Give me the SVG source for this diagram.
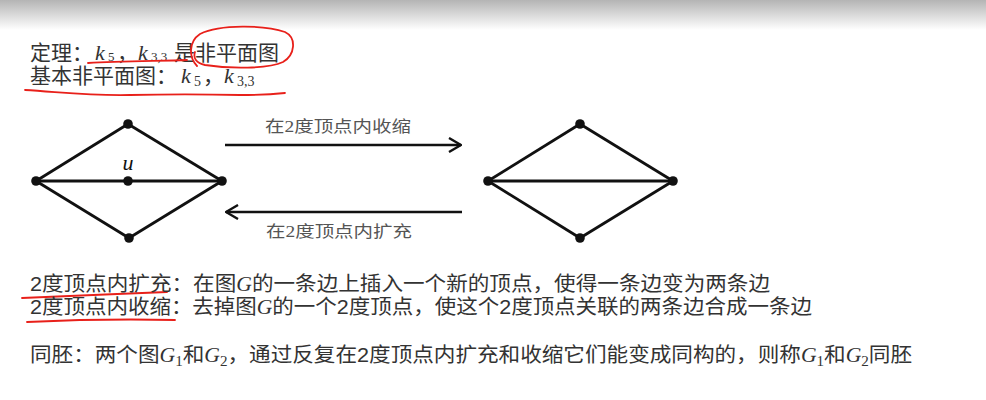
<svg xmlns="http://www.w3.org/2000/svg" width="986" height="400" viewBox="0 0 986 400">
<defs>
<linearGradient id="topg" x1="0" y1="0" x2="0" y2="1">
<stop offset="0" stop-color="#b4b4b4"/>
<stop offset="1" stop-color="#ffffff"/>
</linearGradient>
<marker id="open" viewBox="0 0 14 16" refX="13" refY="8" markerWidth="14" markerHeight="16" markerUnits="userSpaceOnUse" orient="auto">
<path d="M1,1 L13,8 L1,15" fill="none" stroke="#111" stroke-width="2.4"/>
</marker>
<style>
.t{font-family:"Liberation Sans","Noto Sans CJK SC",sans-serif;font-size:20px;fill:#333}
.h{font-family:"Liberation Sans","Noto Sans CJK SC",sans-serif;font-size:21px;fill:#333}
.lbl{font-family:"Liberation Serif","Noto Sans CJK SC",serif;font-size:16px;fill:#555}
.m{font-family:"Liberation Serif",serif;font-style:italic}
.k{font-family:"Liberation Serif",serif;font-style:italic;font-size:22px;fill:#333}
.s{font-family:"Liberation Serif",serif;font-size:14px;fill:#333}
.s1{font-family:"Liberation Serif",serif;font-size:13px;fill:#333}
.sub{font-family:"Liberation Serif",serif;font-style:normal;font-size:14px}
.e{stroke:#111;stroke-width:2.8;fill:none}
.n{fill:#111}
.red{stroke:#e8201a;stroke-width:1.8;fill:none;stroke-linecap:round}
.arr{stroke:#111;stroke-width:2.6;fill:none}
</style>
</defs>
<rect width="986" height="400" fill="#fff"/>
<rect width="986" height="30" fill="url(#topg)"/>

<g id="theorem">
<text class="h" x="30" y="60">定理：</text>
<text class="k" x="95" y="60">k</text>
<text class="s1" x="108" y="61">5</text>
<text class="h" x="117" y="60">，</text>
<text class="k" x="138" y="60">k</text>
<text class="s1" x="151" y="61">3,3</text>
<text class="h" x="174" y="60">是非平面图</text>
<text class="h" x="30" y="83">基本非平面图：</text>
<text class="k" x="181" y="83">k</text>
<text class="s" x="194" y="86">5</text>
<text class="h" x="203" y="83">，</text>
<text class="k" x="224" y="83">k</text>
<text class="s" x="237" y="86">3,3</text>
</g>

<g id="annotations">
<path class="red" d="M88,63 C120,61 160,61 187,60"/>
<path class="red" d="M197,66 C189,58 188,42 200,34 C220,24 265,25 285,32 C297,38 295,55 283,62 C268,69 230,69 205,65 C196,63 193,58 195,52"/>
<path class="red" d="M25,90 C60,92 90,96 130,95 C170,94 200,94 240,95 C260,95 275,94 285,93"/>
<path class="red" d="M22,298 C60,296 120,294 167,292"/>
<path class="red" d="M27,322 C70,320 130,319 175,320"/>
</g>

<g id="graph-left">
<line class="e" x1="128" y1="124" x2="36" y2="181"/>
<line class="e" x1="128" y1="124" x2="222" y2="181"/>
<line class="e" x1="36" y1="181" x2="129" y2="238"/>
<line class="e" x1="222" y1="181" x2="129" y2="238"/>
<line class="e" x1="36" y1="181" x2="222" y2="181"/>
<circle class="n" cx="128" cy="124" r="4.8"/>
<circle class="n" cx="36" cy="181" r="4.8"/>
<circle class="n" cx="128" cy="181" r="4.8"/>
<circle class="n" cx="222" cy="181" r="4.8"/>
<circle class="n" cx="129" cy="238" r="4.8"/>
<text class="m" x="128" y="170" font-size="22" text-anchor="middle" fill="#111">u</text>
</g>

<g id="graph-right">
<line class="e" x1="580" y1="124" x2="488" y2="181"/>
<line class="e" x1="580" y1="124" x2="673" y2="181"/>
<line class="e" x1="488" y1="181" x2="580" y2="238"/>
<line class="e" x1="673" y1="181" x2="580" y2="238"/>
<line class="e" x1="488" y1="181" x2="673" y2="181"/>
<circle class="n" cx="580" cy="124" r="4.8"/>
<circle class="n" cx="488" cy="181" r="4.8"/>
<circle class="n" cx="673" cy="181" r="4.8"/>
<circle class="n" cx="580" cy="238" r="4.8"/>
</g>

<g id="connectors">
<line class="arr" x1="225" y1="145" x2="461" y2="145" marker-end="url(#open)"/>
<line class="arr" x1="462" y1="212" x2="226" y2="212" marker-end="url(#open)"/>
<text class="lbl" x="265" y="132" textLength="146" lengthAdjust="spacingAndGlyphs">在2度顶点内收缩</text>
<text class="lbl" x="266" y="237" textLength="146" lengthAdjust="spacingAndGlyphs">在2度顶点内扩充</text>
</g>

<g id="definitions">
<text class="t" x="30" y="291" textLength="740" lengthAdjust="spacingAndGlyphs">2度顶点内扩充：在图<tspan class="m">G</tspan>的一条边上插入一个新的顶点，使得一条边变为两条边</text>
<text class="t" x="30" y="314" textLength="782" lengthAdjust="spacingAndGlyphs">2度顶点内收缩：去掉图<tspan class="m">G</tspan>的一个2度顶点，使这个2度顶点关联的两条边合成一条边</text>
<text class="t" x="30" y="362" textLength="882" lengthAdjust="spacingAndGlyphs">同胚：两个图<tspan class="m">G</tspan><tspan class="sub" dy="4">1</tspan><tspan dy="-4">和</tspan><tspan class="m">G</tspan><tspan class="sub" dy="4">2</tspan><tspan dy="-4">，通过反复在2度顶点内扩充和收缩它们能变成同构的，则称</tspan><tspan class="m">G</tspan><tspan class="sub" dy="4">1</tspan><tspan dy="-4">和</tspan><tspan class="m">G</tspan><tspan class="sub" dy="4">2</tspan><tspan dy="-4">同胚</tspan></text>
</g>
</svg>
